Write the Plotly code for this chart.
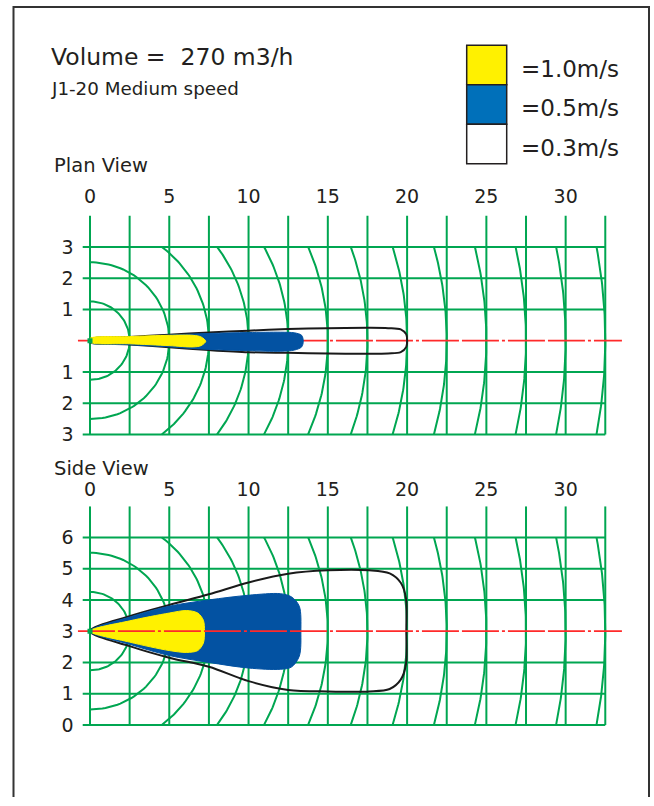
import math
import plotly.graph_objects as go

W, H = 654, 806
FONT = "DejaVu Sans"
TXT = "#231f20"
GREEN = "#00a651"
RED = "#ff2a2a"
YELLOW = "#fff100"
BLUE = "#0352a2"
LEG_BLUE = "#0070ba"

# ---------------- data ----------------
x_tick_vals = [0, 5, 10, 15, 20, 25, 30]
x_tick_text = ["0", "5", "10", "15", "20", "25", "30"]
plan_y_tick_vals = [-3, -2, -1, 1, 2, 3]
plan_y_tick_text = ["3", "2", "1", "1", "2", "3"]
side_y_tick_vals = [0, 1, 2, 3, 4, 5, 6]
side_y_tick_text = ["0", "1", "2", "3", "4", "5", "6"]

grid_x = [0, 2.5, 5, 7.5, 10, 12.5, 15, 17.5, 20, 22.5, 25, 27.5, 30, 32.5]
plan_grid_y = [-3, -2, -1, 1, 2, 3]
side_grid_y = [0, 1, 2, 4, 5, 6]
arc_radii = [2.5, 5, 7.5, 10, 12.5, 15, 17.5, 20, 22.5, 25, 27.5, 30, 32.5]

legend_labels = ["=1.0m/s", "=0.5m/s", "=0.3m/s"]
legend_colors = [YELLOW, LEG_BLUE, "#ffffff"]

# Plan view throw zones (outline: upper edge left->right, lower edge right->left)
plan_03_x = [0, 2.5, 5, 7.5, 10, 12.5, 15, 17.5, 18.8, 19.6, 19.95, 20.0,
             19.95, 19.6, 18.8, 17.5, 15, 12.5, 10, 7.5, 5, 2.5, 0]
plan_03_y = [0.05, 0.12, 0.19, 0.26, 0.32, 0.37, 0.40, 0.41, 0.40, 0.36, 0.2, 0.0,
             -0.2, -0.37, -0.41, -0.42, -0.41, -0.39, -0.37, -0.3, -0.21, -0.12, -0.05]
plan_05_x = [0, 2.5, 5, 7.5, 10, 12, 12.9, 13.35, 13.45,
             13.35, 12.9, 12, 10, 7.5, 5, 2.5, 0]
plan_05_y = [0.06, 0.11, 0.18, 0.23, 0.26, 0.27, 0.25, 0.17, -0.02,
             -0.2, -0.3, -0.34, -0.32, -0.28, -0.2, -0.13, -0.06]
plan_10_x = [0, 2.5, 5, 6.5, 7.0, 7.3, 7.0, 6.5, 5, 2.5, 0]
plan_10_y = [0.07, 0.13, 0.17, 0.17, 0.12, -0.02, -0.16, -0.2, -0.16, -0.1, -0.05]

# Side view throw zones
side_03_x = [0, 2.5, 5, 7.5, 10, 12.5, 15, 17.6, 18.9, 19.6, 19.93, 19.95,
             19.93, 19.6, 18.9, 17.6, 15, 12.5, 10, 7.5, 5, 2.5]
side_03_y = [3.0, 3.48, 3.84, 4.18, 4.56, 4.84, 4.95, 4.95, 4.85, 4.55, 4.05, 3.0,
             1.95, 1.45, 1.15, 1.07, 1.07, 1.12, 1.4, 1.86, 2.15, 2.52]
side_05_x = [0, 2.5, 5, 7.5, 10, 12, 12.7, 13.2, 13.3,
             13.2, 12.7, 12, 10, 7.5, 5, 2.5]
side_05_y = [3.0, 3.45, 3.8, 4.0, 4.15, 4.2, 4.1, 3.8, 3.0,
             2.2, 1.85, 1.78, 1.82, 2.0, 2.22, 2.58]
side_10_x = [0, 2.5, 5, 6.1, 6.8, 7.15, 7.22, 7.15, 6.8, 6.1, 5, 2.5]
side_10_y = [3.0, 3.33, 3.58, 3.66, 3.58, 3.35, 3.0, 2.62, 2.38, 2.32, 2.38, 2.65]

centre_line_x = [-0.76, 33.55]

# ---------------- geometry helpers ----------------
X_RANGE = [-0.85, 33.7]
PX_X0, PX_PER_X = 90.0, 15.855     # pixel of x=0, pixels per unit
PX_PER_Y = 31.6


def px_x(v):
    return PX_X0 + v * PX_PER_X


x_dom = [px_x(X_RANGE[0]) / W, px_x(X_RANGE[1]) / W]

PLAN_Y0 = 344.5    # pixel of y=0 (plan)
PLAN_RANGE = [-3.06, 4.0]
SIDE_Y3 = 638.3    # pixel of y=3 (side)
SIDE_RANGE = [-0.06, 7.0]


def dom_plan():
    top = PLAN_Y0 - PLAN_RANGE[1] * PX_PER_Y
    bot = PLAN_Y0 - PLAN_RANGE[0] * PX_PER_Y
    return [1 - bot / H, 1 - top / H]


def dom_side():
    top = SIDE_Y3 - (SIDE_RANGE[1] - 3) * PX_PER_Y
    bot = SIDE_Y3 - (SIDE_RANGE[0] - 3) * PX_PER_Y
    return [1 - bot / H, 1 - top / H]


def grid_trace(hy, y_lo, y_hi, xa, ya):
    xs, ys = [], []
    for gx in grid_x:
        xs += [gx, gx, None]
        ys += [y_lo, y_hi, None]
    for gy in hy:
        xs += [-0.46, grid_x[-1], None]
        ys += [gy, gy, None]
    return go.Scatter(x=xs, y=ys, mode="lines", xaxis=xa, yaxis=ya,
                      line=dict(color=GREEN, width=2), hoverinfo="skip",
                      showlegend=False)


def arc_trace(cy, xa, ya):
    ratio = PX_PER_X / PX_PER_Y
    xs, ys = [], []
    for r in arc_radii:
        ry = r * ratio
        tmax = math.asin(min(1.0, 3.0 / ry))
        n = 80
        for i in range(n + 1):
            t = -tmax + 2 * tmax * i / n
            xs.append(r * math.cos(t))
            ys.append(cy + ry * math.sin(t))
        xs.append(None)
        ys.append(None)
    return go.Scatter(x=xs, y=ys, mode="lines", xaxis=xa, yaxis=ya,
                      line=dict(color=GREEN, width=2), hoverinfo="skip",
                      showlegend=False)


def red_line(cy, xa, ya):
    return go.Scatter(x=centre_line_x, y=[cy, cy], mode="lines", xaxis=xa, yaxis=ya,
                      line=dict(color=RED, width=1.6,
                                dash="37px,3px,37px,3px,3px,3px"),
                      hoverinfo="skip", showlegend=False)


def zone(xs, ys, fill, line_col, lw, xa, ya):
    return go.Scatter(x=xs + [xs[0]], y=ys + [ys[0]], mode="lines",
                      xaxis=xa, yaxis=ya, fill="toself", fillcolor=fill,
                      line=dict(color=line_col, width=lw, shape="spline", smoothing=0.9),
                      hoverinfo="skip", showlegend=False)


def nozzle(cy, xa, ya):
    return go.Scatter(x=[0], y=[cy], mode="markers", xaxis=xa, yaxis=ya,
                      marker=dict(symbol="square", size=5, color=GREEN),
                      hoverinfo="skip", showlegend=False)


fig = go.Figure()

# Plan view
fig.add_trace(grid_trace(plan_grid_y, -3, 4.02, "x", "y"))
fig.add_trace(arc_trace(0, "x", "y"))
fig.add_trace(red_line(0, "x", "y"))
fig.add_trace(zone(plan_03_x, plan_03_y, "rgba(0,0,0,0)", "#1a1a1a", 2, "x", "y"))
fig.add_trace(zone(plan_05_x, plan_05_y, BLUE, BLUE, 1, "x", "y"))
fig.add_trace(zone(plan_10_x, plan_10_y, YELLOW, YELLOW, 1, "x", "y"))
fig.add_trace(nozzle(0, "x", "y"))

# Side view
fig.add_trace(grid_trace(side_grid_y, 0, 7.0, "x2", "y2"))
fig.add_trace(arc_trace(3, "x2", "y2"))
fig.add_trace(zone(side_03_x, side_03_y, "rgba(0,0,0,0)", "#1a1a1a", 2, "x2", "y2"))
fig.add_trace(zone(side_05_x, side_05_y, BLUE, BLUE, 1, "x2", "y2"))
fig.add_trace(zone(side_10_x, side_10_y, YELLOW, YELLOW, 1, "x2", "y2"))
fig.add_trace(red_line(3, "x2", "y2"))
fig.add_trace(nozzle(3, "x2", "y2"))

tickfont = dict(family=FONT, size=19, color=TXT)
xcommon = dict(range=X_RANGE, domain=x_dom, side="top", tickmode="array",
               tickvals=x_tick_vals, ticktext=x_tick_text, showgrid=False,
               zeroline=False, showline=False, ticks="", tickfont=tickfont,
               fixedrange=True)
ycommon = dict(showgrid=False, zeroline=False, showline=False, ticks="",
               tickmode="array", tickfont=tickfont, fixedrange=True,
               ticklabelstandoff=2)

fig.update_layout(
    width=W, height=H, margin=dict(l=0, r=0, t=0, b=0),
    paper_bgcolor="white", plot_bgcolor="white",
    xaxis=dict(anchor="y", ticklabelstandoff=8, **xcommon),
    yaxis=dict(anchor="x", domain=dom_plan(), range=PLAN_RANGE,
               tickvals=plan_y_tick_vals, ticktext=plan_y_tick_text, **ycommon),
    xaxis2=dict(anchor="y2", ticklabelstandoff=5, **xcommon),
    yaxis2=dict(anchor="x2", domain=dom_side(), range=SIDE_RANGE,
                tickvals=side_y_tick_vals, ticktext=side_y_tick_text, **ycommon),
    showlegend=False,
)

# Border (open at bottom)
shapes = [dict(type="path", xref="paper", yref="paper",
               path=f"M {13.5/W} 0 L {13.5/W} {1-7/H} L {649/W} {1-7/H} L {649/W} 0",
               line=dict(color="#333333", width=2))]
# Legend boxes
box_top = 45.7
box_h = 40.0
for i, col in enumerate(legend_colors):
    y0 = box_top + i * box_h
    shapes.append(dict(type="rect", xref="paper", yref="paper",
                       x0=466.7 / W, x1=506.7 / W, y0=1 - (y0 + box_h) / H, y1=1 - y0 / H,
                       fillcolor=col, line=dict(color="#231f20", width=1.5)))
fig.update_layout(shapes=shapes)

ann = []
ann.append(dict(text="Volume =  270 m3/h", x=49 / W, y=1 - 58 / H, xref="paper", yref="paper",
                xanchor="left", yanchor="middle", showarrow=False,
                font=dict(family=FONT, size=23.5, color=TXT)))
ann.append(dict(text="J1-20 Medium speed", x=49 / W, y=1 - 89 / H, xref="paper", yref="paper",
                xanchor="left", yanchor="middle", showarrow=False,
                font=dict(family=FONT, size=18.3, color=TXT)))
ann.append(dict(text="Plan View", x=52 / W, y=1 - 167 / H, xref="paper", yref="paper",
                xanchor="left", yanchor="middle", showarrow=False,
                font=dict(family=FONT, size=19.5, color=TXT)))
ann.append(dict(text="Side View", x=52 / W, y=1 - 474 / H, xref="paper", yref="paper",
                xanchor="left", yanchor="middle", showarrow=False,
                font=dict(family=FONT, size=19.5, color=TXT)))
for i, lab in enumerate(legend_labels):
    cy = box_top + i * box_h + box_h / 2 + 4
    ann.append(dict(text=lab, x=519 / W, y=1 - cy / H, xref="paper", yref="paper",
                    xanchor="left", yanchor="middle", showarrow=False,
                    font=dict(family=FONT, size=23, color=TXT)))
fig.update_layout(annotations=ann)

fig.write_html("out.html", config={"displayModeBar": False},
               post_script="document.body.style.margin='0';document.body.style.overflow='hidden';")
